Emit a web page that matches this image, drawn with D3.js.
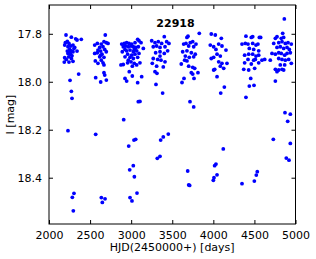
<!DOCTYPE html>
<html>
  <head>
    <script src="https://d3js.org/d3.v7.min.js"></script>
    <style>
      body { margin: 0; background: #fff; }
      text { font-family: "DejaVu Sans", sans-serif; }
    </style>
  </head>
  <body>
    <svg width="316" height="259"></svg>
    <script>
      var title = "22918";
      var xTicks = [2000, 2500, 3000, 3500, 4000, 4500, 5000];
      var yTicks = [17.8, 18.0, 18.2, 18.4];

      var hjd = [
        2207,2272,2325,2341,2393,2199,2223,2243,2191,2231,2264,2292,2313,2252,2272,2223,2292,2341,2231,2264,2280,2191,2240,2211,2243,2186,2292,2272,2304,2256,
        2361,2256,2272,2280,2231,2304,2284,2296,
        2685,2556,2588,2636,2669,2697,2718,2617,2657,2596,2629,2678,2556,2588,2645,2617,2669,2564,2636,2657,2669,2596,2629,2697,
        2568,2629,2698,2669,2678,2568,2637,2682,2649,
        2885,2917,2945,2974,3006,3047,3079,3095,3120,3148,2904,2933,2965,2998,3026,3055,3087,2892,2945,2986,3026,3067,2957,3006,3047,3095,2925,2986,3026,3079,2876,2904,2957,2998,3038,3067,3107,2965,3014,2925,3038,
        2977,2925,2945,3014,3079,3128,3087,3107,2909,3034,3055,2970,3026,2982,3039,2986,3010,3071,
        3403,3250,3290,3330,3371,3432,3460,3269,3310,3351,3412,3298,3351,3403,3444,3269,3323,3363,3412,3257,3310,3391,3351,
        3290,3314,3302,3383,3359,3391,3452,3318,3351,
        3692,3679,3829,3639,3667,3719,3749,3789,3700,3761,3627,3679,3732,3780,3659,3707,3761,3610,3679,3700,3749,3773,3732,3813,3749,3651,
        3619,3643,3765,3716,3761,3688,3700,3712,
        3975,4024,4097,3963,4004,4065,4105,4154,4032,4045,4085,4004,3975,4065,4105,4166,4085,4126,4017,
        4045,4134,4090,4004,4121,4016,4032,4045,4008,4000,
        4397,4462,4479,4560,4576,4349,4389,4422,4479,4519,4543,4438,4491,4552,4381,4430,4479,4519,4552,4422,4491,4511,4592,4625,4381,4462,4552,4503,4370,4430,
        4397,4438,4495,4455,4349,4535,4523,4499,
        4844,4755,4775,4827,4856,4735,4796,4836,4876,4909,4949,4775,4815,4856,4897,4925,4714,4755,4796,4827,4868,4897,4937,4796,4836,4876,4917,4693,4949,4755,4796,4836,4856,4775,4815,4868,
        4755,4864,4872,4937,4905,4730,4937,4888,4921
      ];
      var mag = [
        17.805,17.814,17.821,17.826,17.823,17.837,17.832,17.840,17.847,17.854,17.851,17.847,17.857,17.865,17.871,17.872,17.875,17.872,17.882,17.886,17.892,17.900,17.896,17.907,17.918,17.918,17.915,17.903,17.861,17.876,
        17.968,17.994,18.040,18.069,18.204,18.465,18.482,18.538,
        17.805,17.847,17.840,17.843,17.833,17.837,17.840,17.857,17.854,17.868,17.872,17.865,17.882,17.879,17.885,17.896,17.898,17.913,17.910,17.921,17.930,17.923,17.889,17.875,
        17.983,18.001,17.993,17.962,17.972,18.219,18.483,18.488,18.503,
        17.843,17.840,17.837,17.840,17.843,17.837,17.823,17.829,17.837,17.861,17.854,17.851,17.854,17.851,17.854,17.857,17.854,17.875,17.871,17.868,17.875,17.871,17.885,17.889,17.885,17.882,17.896,17.898,17.903,17.898,17.930,17.928,17.921,17.917,17.923,17.930,17.921,17.910,17.935,17.865,17.865,
        17.958,17.986,17.997,17.976,18.004,17.979,18.083,18.082,18.158,18.243,18.240,18.268,18.350,18.367,18.396,18.483,18.497,18.464,
        17.812,17.829,17.837,17.833,17.840,17.833,17.840,17.854,17.851,17.857,17.854,17.879,17.875,17.882,17.871,17.903,17.907,17.910,17.917,17.923,17.935,17.938,17.893,
        17.958,17.965,18.011,18.047,18.243,18.230,18.218,18.319,18.311,
        17.810,17.815,17.798,17.843,17.840,17.837,17.833,17.843,17.851,17.854,17.875,17.871,17.879,17.885,17.893,17.898,17.896,17.926,17.913,17.935,17.940,17.944,17.962,17.962,17.968,17.910,
        18.003,17.986,17.986,18.083,18.105,18.372,18.430,18.432,
        17.801,17.805,17.819,17.847,17.854,17.843,17.851,17.868,17.865,17.885,17.893,17.898,17.903,17.917,17.923,17.923,17.935,17.944,17.948,
        17.979,18.022,18.047,17.951,18.280,18.350,18.343,18.388,18.400,18.411,
        17.810,17.815,17.812,17.815,17.815,17.843,17.840,17.843,17.840,17.847,17.843,17.861,17.865,17.871,17.889,17.885,17.885,17.893,17.889,17.907,17.910,17.907,17.910,17.907,17.921,17.926,17.921,17.944,17.948,17.951,
        18.065,18.018,18.015,17.986,18.425,18.375,18.389,18.414,
        17.798,17.819,17.812,17.819,17.815,17.840,17.837,17.833,17.840,17.837,17.843,17.857,17.854,17.861,17.857,17.865,17.882,17.885,17.879,17.882,17.889,17.882,17.879,17.903,17.907,17.910,17.907,17.910,17.923,17.948,17.951,17.948,17.951,17.958,17.930,17.930,
        17.997,17.738,18.129,18.135,18.165,18.240,18.257,18.318,18.327
      ];

      // plot frame (window.top is reserved, so no "top" here)
      var plotL = 49, plotR = 295.5, plotT = 5, plotB = 224;
      var svg = d3.select("svg");

      var x = d3.scaleLinear().domain([2000, 5000]).range([plotL, plotR]);
      var y = d3.scaleLinear().domain([17.68, 18.593]).range([plotT, plotB]);

      var pts = hjd.map(function(d, i) { return [d, mag[i]]; });

      svg.append("g")
        .selectAll("circle")
        .data(pts)
        .enter().append("circle")
          .attr("cx", function(d) { return x(d[0]); })
          .attr("cy", function(d) { return y(d[1]); })
          .attr("r", 1.9)
          .attr("fill", "#0000ff");

      // axes, matplotlib style: ticks inward on all four sides
      svg.append("g")
        .attr("transform", "translate(0," + plotB + ")")
        .call(d3.axisBottom(x).tickValues(xTicks).tickSizeInner(-4).tickSizeOuter(0).tickPadding(7).tickFormat(d3.format("d")));
      svg.append("g")
        .attr("transform", "translate(0," + plotT + ")")
        .call(d3.axisTop(x).tickValues(xTicks).tickSizeInner(-4).tickSizeOuter(0).tickFormat(""));
      svg.append("g")
        .attr("transform", "translate(" + plotL + ",0)")
        .call(d3.axisLeft(y).tickValues(yTicks).tickSizeInner(-4).tickSizeOuter(0).tickPadding(7).tickFormat(d3.format(".1f")));
      svg.append("g")
        .attr("transform", "translate(" + plotR + ",0)")
        .call(d3.axisRight(y).tickValues(yTicks).tickSizeInner(-4).tickSizeOuter(0).tickFormat(""));

      svg.selectAll(".domain").remove();
      svg.selectAll(".tick text").attr("font-size", 11).attr("fill", "#000")
        .style("font-family", "DejaVu Sans");
      svg.selectAll(".tick line").attr("stroke", "#000");

      svg.append("rect")
        .attr("x", plotL).attr("y", plotT)
        .attr("width", plotR - plotL).attr("height", plotB - plotT)
        .attr("fill", "none").attr("stroke", "#000").attr("stroke-width", 1);

      svg.append("text")
        .attr("x", 175.5).attr("y", 26.5)
        .attr("text-anchor", "middle")
        .attr("font-size", 11).attr("font-weight", "bold")
        .text(title);

      svg.append("text")
        .attr("x", (plotL + plotR) / 2).attr("y", 251)
        .attr("text-anchor", "middle")
        .attr("font-size", 11)
        .text("HJD(2450000+) [days]");

      svg.append("text")
        .attr("transform", "translate(14," + ((plotT + plotB) / 2) + ") rotate(-90)")
        .attr("text-anchor", "middle")
        .attr("font-size", 11)
        .text("I [mag]");
    </script>
  </body>
</html>
